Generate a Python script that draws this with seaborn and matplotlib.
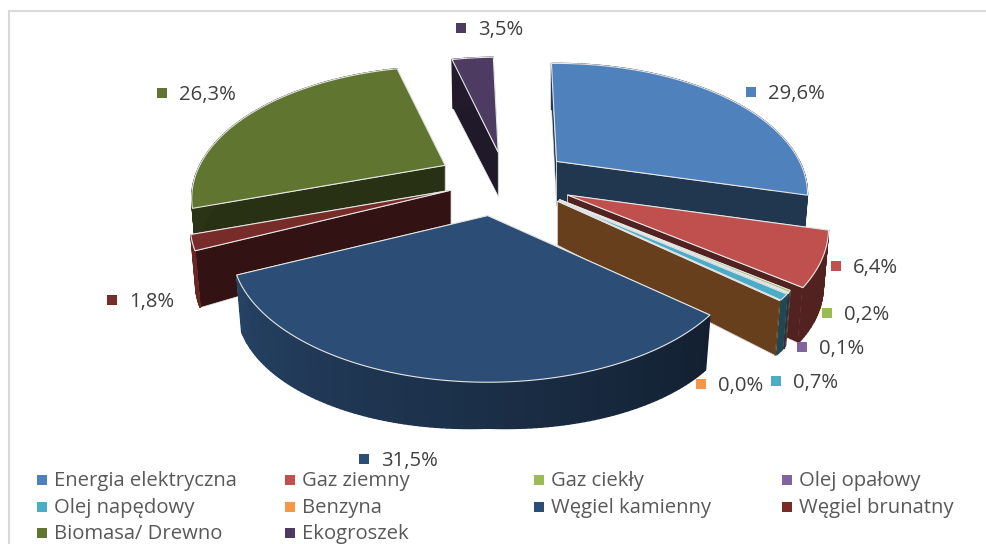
import numpy as np
import matplotlib
matplotlib.use("Agg")
import matplotlib.pyplot as plt
import seaborn as sns

categories = ["Energia elektryczna", "Gaz ziemny", "Gaz ciekły", "Olej opałowy",
              "Olej napędowy", "Benzyna", "Węgiel kamienny", "Węgiel brunatny",
              "Biomasa/ Drewno", "Ekogroszek"]
shares = [29.6, 6.4, 0.2, 0.1, 0.7, 0.0, 31.5, 1.8, 26.3, 3.5]
hex_colors = ["#4f81bd", "#c0504d", "#9bbb59", "#8064a2", "#4bacc6",
              "#f79646", "#2c4d75", "#772c2a", "#5f7530", "#4d3b62"]

# styling / layout (not data)
explode = [0.30, 0.314, 0.315, 0.32, 0.32, 0.32, 0.36, 0.22, 0.265, 0.30]
radius_scale = [1.0, 1.04, 1.02, 1.02, 1.02, 1.02, 1.02, 1.04, 1.01, 0.97]
nudge_x = [0, 0, 0, 0, 0, 0, 0, 0, 1, 8]
nudge_y = [0, 1, 0, 0, 0, 0, 0, 2, -2, 2]
draw_order = [9, 0, 8, 7, 1, 2, 3, 4, 5, 6]
label_pos = [(768, 94), (853, 268), (844, 315), (819, 349), (793, 383),
             (718, 386), (381, 461), (129, 302), (179, 95), (478, 30)]
CX, CY = 500, 180
RX, RY, PERSP = 243, 122.5, 0.25
EX_RX, EX_RY = 240, 100
THICK_APEX, THICK_MID, THICK_SIDE = 44, 46, 12
BASE_SHRINK = 0.98
START = -1.5

sns.set_theme(style="white")
plt.rcParams["font.family"] = ["Open Sans", "DejaVu Sans"]
palette = sns.color_palette(hex_colors)

fig = plt.figure(figsize=(9.86, 5.44), dpi=100)
ax = fig.add_axes([0, 0, 1, 1])
ax.set_xlim(0, 986)
ax.set_ylim(544, 0)
ax.axis("off")

ax.plot([9, 9, 986], [544, 10.5, 10.5], color="#d9d9d9", lw=1.5, solid_joinstyle="miter")


def rim(apex, th, scale):
    t = np.radians(th)
    X, Y = np.sin(t), np.cos(t)
    den = 1 + PERSP * Y
    return apex[0] + scale * RX * X / den, apex[1] - scale * RY * Y / den


def base(apex, th, scale):
    x, y = rim(apex, th, scale)
    t = THICK_MID + THICK_SIDE * abs(np.sin(np.radians(th)))
    return apex[0] + BASE_SHRINK * (x - apex[0]), y + t


def shade(c, f):
    return tuple(min(1, v * f) for v in c)


def wall_shade(th):
    th = th % 360
    if th > 252:
        return 0.45
    return 0.42 + 0.45 * np.clip((th - 133) / 114, 0, 1)


total = sum(shares)
spans = np.array(shares) / total * 360
starts = START + np.concatenate([[0], np.cumsum(spans)[:-1]])
edge = "#e6e6e6"

for order, i in enumerate(draw_order):
    a0, span, col, sc = starts[i], spans[i], palette[i], radius_scale[i]
    z = 2 + order * 0.01
    mid = np.radians(a0 + span / 2)
    apex = (CX + explode[i] * EX_RX * np.sin(mid) + nudge_x[i],
            CY - explode[i] * EX_RY * np.cos(mid) + nudge_y[i])
    ths = np.linspace(a0, a0 + span, max(2, int(span) + 2))

    # cut faces, the nearer one last
    faces = sorted((a0, a0 + span), key=lambda th: rim(apex, th, sc)[1])
    for th in faces:
        p, q = rim(apex, th, sc), base(apex, th, sc)
        ax.fill([apex[0], p[0], q[0], apex[0]],
                [apex[1], p[1], q[1], apex[1] + THICK_APEX],
                color=shade(col, 0.42), ec=edge, lw=0.5, zorder=z)
    # outer wall with a shading that follows the angle
    top = np.array([rim(apex, th, sc) for th in ths])
    bot = np.array([base(apex, th, sc) for th in ths])
    for k in range(len(ths) - 1):
        c = shade(col, wall_shade(ths[k]))
        ax.fill([top[k, 0], top[k + 1, 0], bot[k + 1, 0], bot[k, 0]],
                [top[k, 1], top[k + 1, 1], bot[k + 1, 1], bot[k, 1]],
                color=c, ec=c, lw=1.0, zorder=z)
    # top face
    ax.fill(np.r_[apex[0], top[:, 0]], np.r_[apex[1], top[:, 1]],
            fc=col, ec=edge, lw=0.8, zorder=z)

# data labels
for i, (x, y) in enumerate(label_pos):
    ax.scatter([x - 17], [y - 2], marker="s", s=42, color=palette[i], lw=0, zorder=5)
    ax.text(x, y, f"{shares[i]:.1f}%".replace(".", ","), fontsize=14.6,
            color="#404040", va="center", ha="left", zorder=5)

# legend
col_x = [42, 290, 539, 787]
row_y = [481, 508, 534]
for i, name in enumerate(categories):
    r, c = divmod(i, 4)
    ax.scatter([col_x[c]], [row_y[r] - 1], marker="s", s=42, color=palette[i], lw=0, zorder=5)
    ax.text(col_x[c] + 12, row_y[r], name, fontsize=14.6, color="#595959",
            va="center", ha="left", zorder=5)

fig.savefig("out.png", dpi=100)
